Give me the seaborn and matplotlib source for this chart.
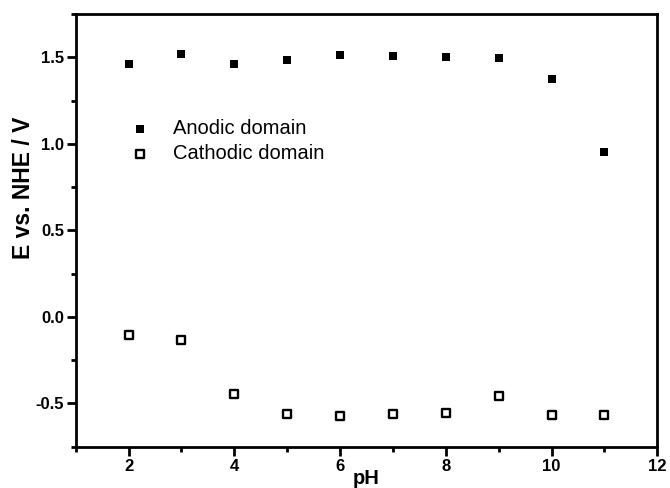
import numpy as np
import pandas as pd
import matplotlib
matplotlib.use("Agg")
import matplotlib.pyplot as plt
import seaborn as sns
from matplotlib.ticker import MultipleLocator

# Data
ph = [2, 3, 4, 5, 6, 7, 8, 9, 10, 11]
anodic = [1.46, 1.52, 1.46, 1.485, 1.515, 1.51, 1.50, 1.495, 1.377, 0.95]
cathodic = [-0.105, -0.136, -0.448, -0.559, -0.570, -0.559, -0.555, -0.459, -0.567, -0.567]

series_labels = ["Anodic domain", "Cathodic domain"]
x_label = "pH"
y_label = "E vs. NHE / V"

sns.set_theme(style="ticks")
plt.rcParams['font.family'] = ['Liberation Sans', 'DejaVu Sans']
plt.rcParams['axes.unicode_minus'] = False

df = pd.DataFrame({'pH': ph, 'anodic': anodic, 'cathodic': cathodic})

fig = plt.figure(figsize=(6.7, 4.88), dpi=100)
ax = fig.add_axes([0.113, 0.0846, 0.868, 0.8867])

sns.scatterplot(data=df, x='pH', y='anodic', marker='s', s=40, color='black',
                edgecolor='black', linewidth=0, label=series_labels[0], ax=ax)
sns.scatterplot(data=df, x='pH', y='cathodic', marker='s', s=27, facecolor='white',
                edgecolor='black', linewidth=1.7, label=series_labels[1], ax=ax)

ax.set_xlim(1, 12)
ax.set_ylim(-0.75, 1.75)
ax.xaxis.set_major_locator(MultipleLocator(2))
ax.xaxis.set_minor_locator(MultipleLocator(1))
ax.yaxis.set_major_locator(MultipleLocator(0.5))
ax.yaxis.set_minor_locator(MultipleLocator(0.25))

for side in ['top', 'right', 'bottom', 'left']:
    ax.spines[side].set_visible(True)
    ax.spines[side].set_linewidth(2.0)
    ax.spines[side].set_color('black')

ax.tick_params(which='major', direction='out', length=6.5, width=2.0, labelsize=12,
               color='black', labelcolor='black', pad=2)
ax.tick_params(which='minor', direction='out', length=3.5, width=2.0, color='black')
for lbl in ax.get_xticklabels() + ax.get_yticklabels():
    lbl.set_fontweight('bold')

ax.set_xlabel(x_label, fontsize=14.5, fontweight='bold', color='black')
ax.set_ylabel(y_label, fontsize=16.5, fontweight='bold', color='black')
ax.xaxis.set_label_coords(0.5, -0.052)
ax.yaxis.set_label_coords(-0.07, 0.598)

leg = ax.legend(loc='upper left', bbox_to_anchor=(0.094, 0.757), frameon=False,
                fontsize=14.5, handlelength=1.0, handletextpad=1.1, labelspacing=0.3,
                borderpad=0, borderaxespad=0)
for txt in leg.get_texts():
    txt.set_color('black')

plt.savefig("out.png", dpi=100)
plt.close()
